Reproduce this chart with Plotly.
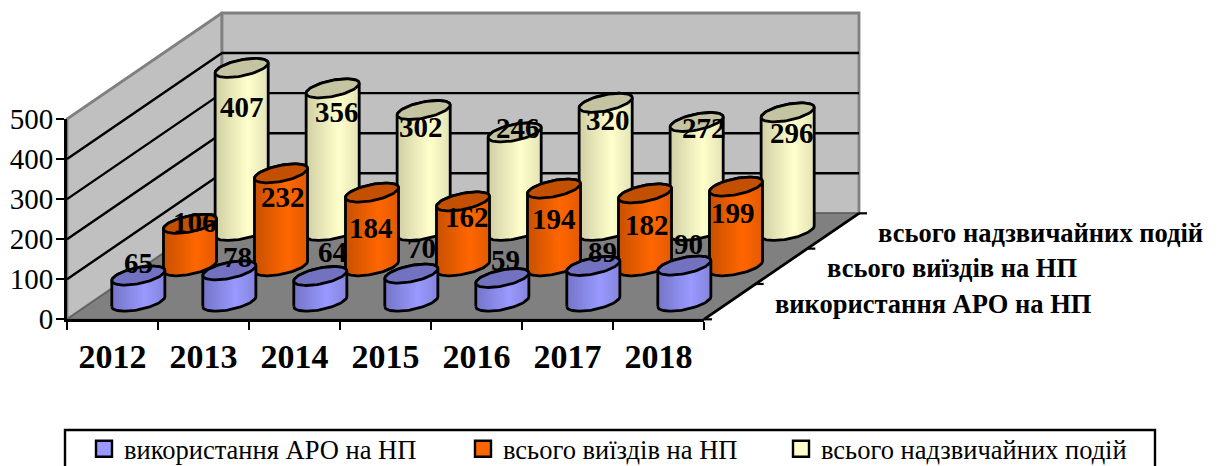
import math
import plotly.graph_objects as go

# ---------- data ----------
years = ["2012", "2013", "2014", "2015", "2016", "2017", "2018"]
series_names = ["використання АРО на НП", "всього виїздів на НП", "всього надзвичайних подій"]
aro_use = [65, 78, 64, 70, 59, 89, 90]
all_calls = [106, 232, 184, 162, 194, 182, 199]
all_emergencies = [407, 356, 302, 246, 320, 272, 296]
value_ticks = [0, 100, 200, 300, 400, 500]

# ---------- layout constants ----------
W, H = 1218, 466
X0, Y0 = 67.0, 319.3          # pixel of the chart origin
CAT_PX = (704 - 67) / 7       # pixels per category
VAL_PX = 200.3 / 500          # pixels per value unit
DEPTH_DX, DEPTH_DY = 155 / 3, 106 / 3   # pixels per series row
K_C = DEPTH_DX / CAT_PX       # category units per depth row
K_V = DEPTH_DY / VAL_PX       # value units per depth row
R_C, R_D = 22.6 / CAT_PX, 13.9 / DEPTH_DX
FONT = "Liberation Serif"
LINE = 2.8
LEGEND_LEFT = [84, 463, 781]  # left edge of each legend entry, pixels
LEGEND_TOP = 425

FILL = [
    dict(scale=[[0, "#7474C8"], [0.62, "#9999FF"], [1, "#8484DC"]], top="#7272C0"),
    dict(scale=[[0, "#C85000"], [0.62, "#FF6600"], [1, "#E25A00"]], top="#C25000"),
    dict(scale=[[0, "#CFCFA4"], [0.62, "#FFFFCC"], [1, "#E2E2B4"]], top="#C4C4A2"),
]
SWATCH = ["#9999FF", "#FF6600", "#FFFFCC"]
# label displacement from the top of each cylinder, in screen pixels (dx, dy down)
LABEL_NUDGE = [
    [(0, -13), (8, -13), (12, -24), (10, -26), (3, -18), (9, -14), (4, -22)],
    [(5, -2), (2, 24), (-1, 35), (4, 16), (0, 30), (2, 32), (-3, 26)],
    [(0, 39), (4, 24), (-3, 17), (3, -4), (2, 17), (7, 6), (4, 21)],
]


def proj(c, d, v):
    """Oblique projection of (category, depth, value) onto the 2-D axes."""
    return c + d * K_C, v + d * K_V


def ellipse(c, d, v, t0, t1, n=48):
    xs, ys = [], []
    for i in range(n + 1):
        t = t0 + (t1 - t0) * i / n
        x, y = proj(c + R_C * math.cos(t), d + R_D * math.sin(t), v)
        xs.append(x)
        ys.append(y)
    return xs, ys


fig = go.Figure()


def poly(pts, fill=None, color="black", width=2.0):
    xs = [p[0] for p in pts]
    ys = [p[1] for p in pts]
    fig.add_trace(go.Scatter(
        x=xs, y=ys, mode="lines", fill="toself" if fill else None, fillcolor=fill,
        line=dict(color=color, width=width), showlegend=False, hoverinfo="skip"))


n_cat = len(years)
n_ser = len(series_names)
vmax = value_ticks[-1]

# walls and floor
poly([proj(0, 0, 0), proj(0, 0, vmax), proj(0, n_ser, vmax), proj(0, n_ser, 0), proj(0, 0, 0)], "#C0C0C0", "#808080", 2.8)
poly([proj(0, n_ser, 0), proj(0, n_ser, vmax), proj(n_cat, n_ser, vmax), proj(n_cat, n_ser, 0), proj(0, n_ser, 0)], "#C0C0C0", "#808080", 2.8)
poly([proj(0, 0, 0), proj(n_cat, 0, 0), proj(n_cat, n_ser, 0), proj(0, n_ser, 0), proj(0, 0, 0)], "#808080", "#606060", 1.5)

# grid lines
for v in value_ticks[1:-1]:
    poly([proj(0, 0, v), proj(0, n_ser, v), proj(n_cat, n_ser, v)], None, "black", 2.4)

# depth axis with its ticks
poly([proj(n_cat, 0, 0), proj(n_cat, n_ser, 0)], None, "black", 2.8)
for d in range(n_ser + 1):
    xa, ya = proj(n_cat, d, 0)
    poly([(xa, ya), (xa + 8 / CAT_PX, ya)], None, "black", 2.2)

# cylinders, back row first
rows = [aro_use, all_calls, all_emergencies]
theta0 = math.atan2(R_D * K_C, R_C)
for s in reversed(range(n_ser)):
    for c, val in enumerate(rows[s]):
        cc, dd = c + 0.5, s + 0.5
        xb, yb = ellipse(cc, dd, 0, theta0 + math.pi, theta0 + 2 * math.pi)
        xt, yt = ellipse(cc, dd, val, theta0, theta0 + math.pi)
        fig.add_trace(go.Scatter(
            x=xb + xt + [xb[0]], y=yb + yt + [yb[0]], mode="lines", fill="toself",
            fillgradient=dict(type="horizontal", colorscale=FILL[s]["scale"]),
            line=dict(color="black", width=LINE), showlegend=False, hoverinfo="skip"))
        xe, ye = ellipse(cc, dd, val, 0, 2 * math.pi, 72)
        fig.add_trace(go.Scatter(
            x=xe, y=ye, mode="lines", fill="toself", fillcolor=FILL[s]["top"],
            line=dict(color="black", width=LINE), showlegend=False, hoverinfo="skip"))

# legend entries, one positioned legend per series
legend_ids = ["legend", "legend2", "legend3"]
for name, col, lid in zip(series_names, SWATCH, legend_ids):
    fig.add_trace(go.Scatter(
        x=[None], y=[None], mode="markers", name=name, legend=lid,
        marker=dict(symbol="square", size=17, color=col, line=dict(color="black", width=2.4))))

# visible value/category axes, drawn through their own subplot
fig.add_trace(go.Scatter(x=[0, n_cat], y=[0, vmax], mode="lines", xaxis="x2", yaxis="y2",
                         line=dict(width=0), showlegend=False, hoverinfo="skip"))

# value labels
for s in range(n_ser):
    for c, val in enumerate(rows[s]):
        x, y = proj(c + 0.5, s + 0.5, val)
        dx, dy = LABEL_NUDGE[s][c]
        fig.add_annotation(x=x, y=y, xshift=dx, yshift=-dy, text=str(val), showarrow=False,
                           font=dict(family=FONT, size=29, color="black", weight="bold"))

# depth-axis series labels
for s, name in enumerate(series_names):
    x, y = proj(n_cat, s + 0.5, 0)
    fig.add_annotation(x=x, y=y, xshift=43, yshift=-2, xanchor="left", text=name, showarrow=False,
                       font=dict(family=FONT, size=26.5, color="black", weight="bold"))

# legend frame
fig.add_shape(type="rect", xref="paper", yref="paper", x0=65 / W, x1=1155 / W, y0=-0.02, y1=36 / H,
              line=dict(color="black", width=2.4), fillcolor="white", layer="below")

fig.update_layout(
    width=W, height=H, margin=dict(l=0, r=0, t=0, b=0, pad=0, autoexpand=False),
    paper_bgcolor="white", plot_bgcolor="rgba(0,0,0,0)", hovermode=False,
    font=dict(family=FONT, color="black"),
    xaxis=dict(domain=[0, 1], range=[-X0 / CAT_PX, (W - X0) / CAT_PX], visible=False),
    yaxis=dict(domain=[0, 1], range=[-(H - Y0) / VAL_PX, Y0 / VAL_PX], visible=False),
    xaxis2=dict(
        domain=[X0 / W, 704 / W], range=[0, n_cat], anchor="y2", showgrid=False, zeroline=False,
        showline=True, linecolor="black", linewidth=2.8,
        tickmode="array", tickvals=[i + 0.5 for i in range(n_cat)], ticktext=years, ticks="",
        tickfont=dict(family=FONT, size=34, color="black", weight="bold"), ticklabelstandoff=5,
        minor=dict(tickmode="array", tickvals=list(range(n_cat + 1)), ticks="outside",
                   ticklen=8, tickwidth=2.2, tickcolor="black", showgrid=False)),
    yaxis2=dict(
        domain=[(H - Y0) / H, (H - 119) / H], range=[0, vmax], anchor="x2", showgrid=False, zeroline=False,
        showline=True, linecolor="black", linewidth=2.8,
        tickmode="array", tickvals=value_ticks, ticks="outside", ticklen=8, tickwidth=2.2, tickcolor="black",
        ticklabelstandoff=-3,
        tickfont=dict(family=FONT, size=29, color="black")),
)
for lid, left in zip(legend_ids, LEGEND_LEFT):
    fig.update_layout({lid: dict(
        orientation="h", x=left / W, y=(H - LEGEND_TOP) / H, xanchor="left", yanchor="top",
        bgcolor="rgba(0,0,0,0)", borderwidth=0,
        font=dict(family=FONT, size=26.5, color="black"),
        itemclick=False, itemdoubleclick=False)})

fig.write_html("out.html", config=dict(displayModeBar=False),
               post_script="document.body.style.margin='0';")
